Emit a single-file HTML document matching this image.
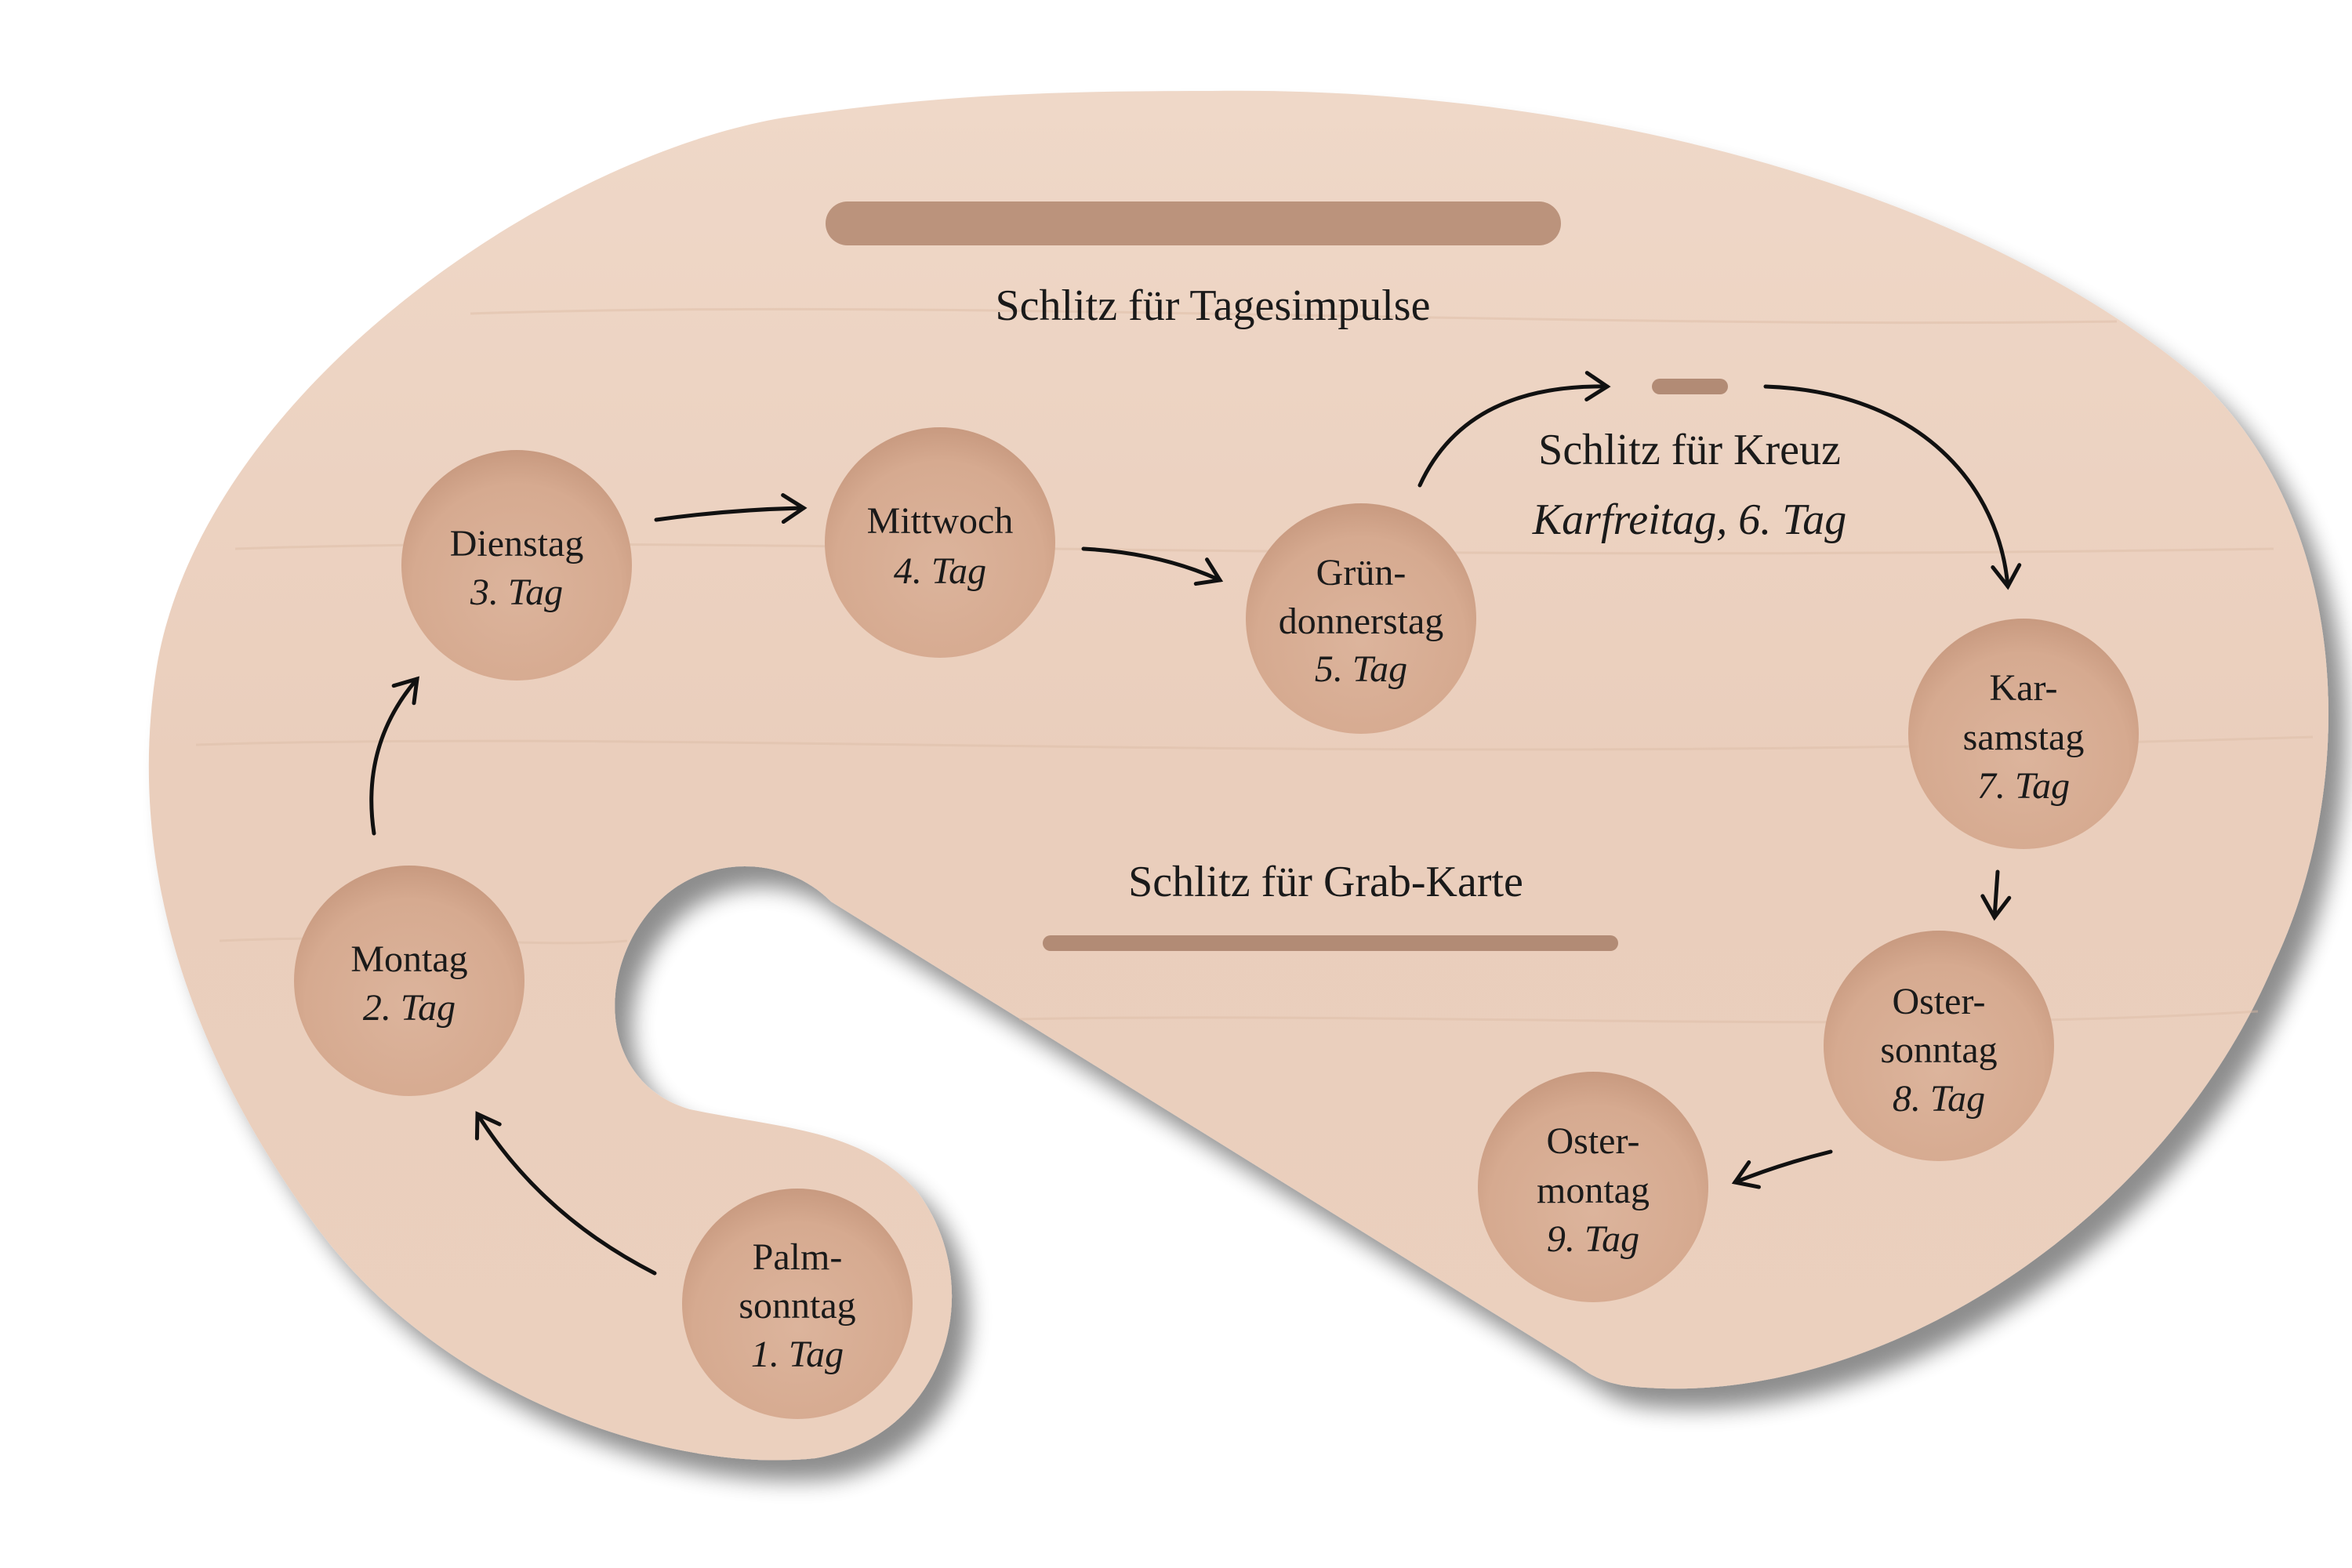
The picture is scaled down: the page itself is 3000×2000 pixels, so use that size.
<!DOCTYPE html>
<html><head><meta charset="utf-8"><style>
html,body{margin:0;padding:0;background:#fff;}
svg{display:block;}
text{font-family:"Liberation Serif",serif;fill:#1a1a1a;}
</style></head><body>
<svg width="3000" height="2000" viewBox="0 0 3000 2000" xmlns="http://www.w3.org/2000/svg">
<defs>
<filter id="sh" x="-10%" y="-10%" width="130%" height="130%">
<feGaussianBlur in="SourceAlpha" stdDeviation="14"/>
<feOffset dx="22" dy="26" result="b"/>
<feComponentTransfer><feFuncA type="linear" slope="0.45"/></feComponentTransfer>
<feMerge><feMergeNode/><feMergeNode in="SourceGraphic"/></feMerge>
</filter>
<linearGradient id="wood" x1="0" y1="0" x2="0" y2="1">
<stop offset="0" stop-color="#efd8c8"/>
<stop offset="0.5" stop-color="#eacebc"/>
<stop offset="1" stop-color="#ebd0be"/>
</linearGradient>
<radialGradient id="hole" cx="0.5" cy="0.6" r="0.6">
<stop offset="0" stop-color="#dcb49c"/>
<stop offset="0.75" stop-color="#d6aa90"/>
<stop offset="1" stop-color="#c89a80"/>
</radialGradient>
<marker id="ah" viewBox="-40 -30 60 60" refX="0" refY="0" markerWidth="60" markerHeight="60" markerUnits="userSpaceOnUse" orient="auto" overflow="visible">
<path d="M-26 -17 L0 0 L-26 17" fill="none" stroke="#111" stroke-width="5" stroke-linecap="round" stroke-linejoin="miter"/>
</marker>
</defs>

<path filter="url(#sh)" fill="url(#wood)" d="M 1546 116
C 2000 110, 2500 230, 2800 480
C 3000 660, 3010 1000, 2900 1230
C 2760 1560, 2400 1790, 2100 1770
C 2050 1768, 2030 1755, 2010 1740
L 1060 1150
C 1000 1090, 900 1090, 840 1150
C 760 1230, 760 1380, 880 1415
C 1000 1440, 1100 1440, 1170 1520
C 1260 1640, 1210 1830, 1040 1860
C 850 1880, 560 1780, 400 1560
C 240 1340, 160 1100, 200 850
C 260 500, 700 200, 1000 150
C 1200 120, 1350 116, 1546 116 Z"/>

<g stroke="#dcbaa4" stroke-width="3" fill="none" opacity="0.45">
<path d="M300 700 C 900 680, 1600 720, 2900 700"/>
<path d="M250 950 C 900 930, 1700 980, 2950 940"/>
<path d="M280 1200 C 500 1190, 700 1210, 800 1200"/>
<path d="M1300 1300 C 1800 1290, 2400 1320, 2880 1290"/>
<path d="M600 400 C 1200 380, 2000 420, 2700 410"/>
</g>

<rect x="1053" y="257" width="938" height="56" rx="28" fill="#bb937c"/>
<rect x="1330" y="1193" width="734" height="20" rx="10" fill="#b28b75"/>
<rect x="2107" y="483" width="97" height="20" rx="10" fill="#b28b75"/>

<g fill="url(#hole)">
<circle cx="659" cy="721" r="147"/>
<circle cx="1199" cy="692" r="147"/>
<circle cx="1736" cy="789" r="147"/>
<circle cx="2581" cy="936" r="147"/>
<circle cx="2473" cy="1334" r="147"/>
<circle cx="2032" cy="1514" r="147"/>
<circle cx="1017" cy="1663" r="147"/>
<circle cx="522" cy="1251" r="147"/>
</g>

<g font-size="56" text-anchor="middle">
<text x="1547" y="408">Schlitz für Tagesimpulse</text>
<text x="2155" y="592">Schlitz für Kreuz</text>
<text x="2155" y="681" font-style="italic">Karfreitag, 6. Tag</text>
<text x="1691" y="1143">Schlitz für Grab-Karte</text>
</g>
<g font-size="48" text-anchor="middle">
<text x="659" y="709">Dienstag</text><text x="659" y="771" font-style="italic">3. Tag</text>
<text x="1199" y="680">Mittwoch</text><text x="1199" y="744" font-style="italic">4. Tag</text>
<text x="1736" y="746">Grün-</text><text x="1736" y="808">donnerstag</text><text x="1736" y="869" font-style="italic">5. Tag</text>
<text x="2581" y="893">Kar-</text><text x="2581" y="956">samstag</text><text x="2581" y="1018" font-style="italic">7. Tag</text>
<text x="2473" y="1293">Oster-</text><text x="2473" y="1355">sonntag</text><text x="2473" y="1417" font-style="italic">8. Tag</text>
<text x="2032" y="1471">Oster-</text><text x="2032" y="1534">montag</text><text x="2032" y="1596" font-style="italic">9. Tag</text>
<text x="1017" y="1619">Palm-</text><text x="1017" y="1681">sonntag</text><text x="1017" y="1743" font-style="italic">1. Tag</text>
<text x="522" y="1239">Montag</text><text x="522" y="1301" font-style="italic">2. Tag</text>
</g>

<g fill="none" stroke="#111" stroke-width="5" stroke-linecap="round">
<path d="M837 663 Q930 650 1025 648" marker-end="url(#ah)"/>
<path d="M1382 700 Q1480 705 1556 740" marker-end="url(#ah)"/>
<path d="M1811 619 Q1870 490 2050 493" marker-end="url(#ah)"/>
<path d="M2252 493 C2450 500 2550 620 2561 748" marker-end="url(#ah)"/>
<path d="M2548 1112 L2544 1170" marker-end="url(#ah)"/>
<path d="M2335 1469 Q2270 1485 2213 1508" marker-end="url(#ah)"/>
<path d="M835 1624 Q690 1550 609 1421" marker-end="url(#ah)"/>
<path d="M477 1063 Q460 950 532 866" marker-end="url(#ah)"/>
</g>
</svg>
</body></html>
